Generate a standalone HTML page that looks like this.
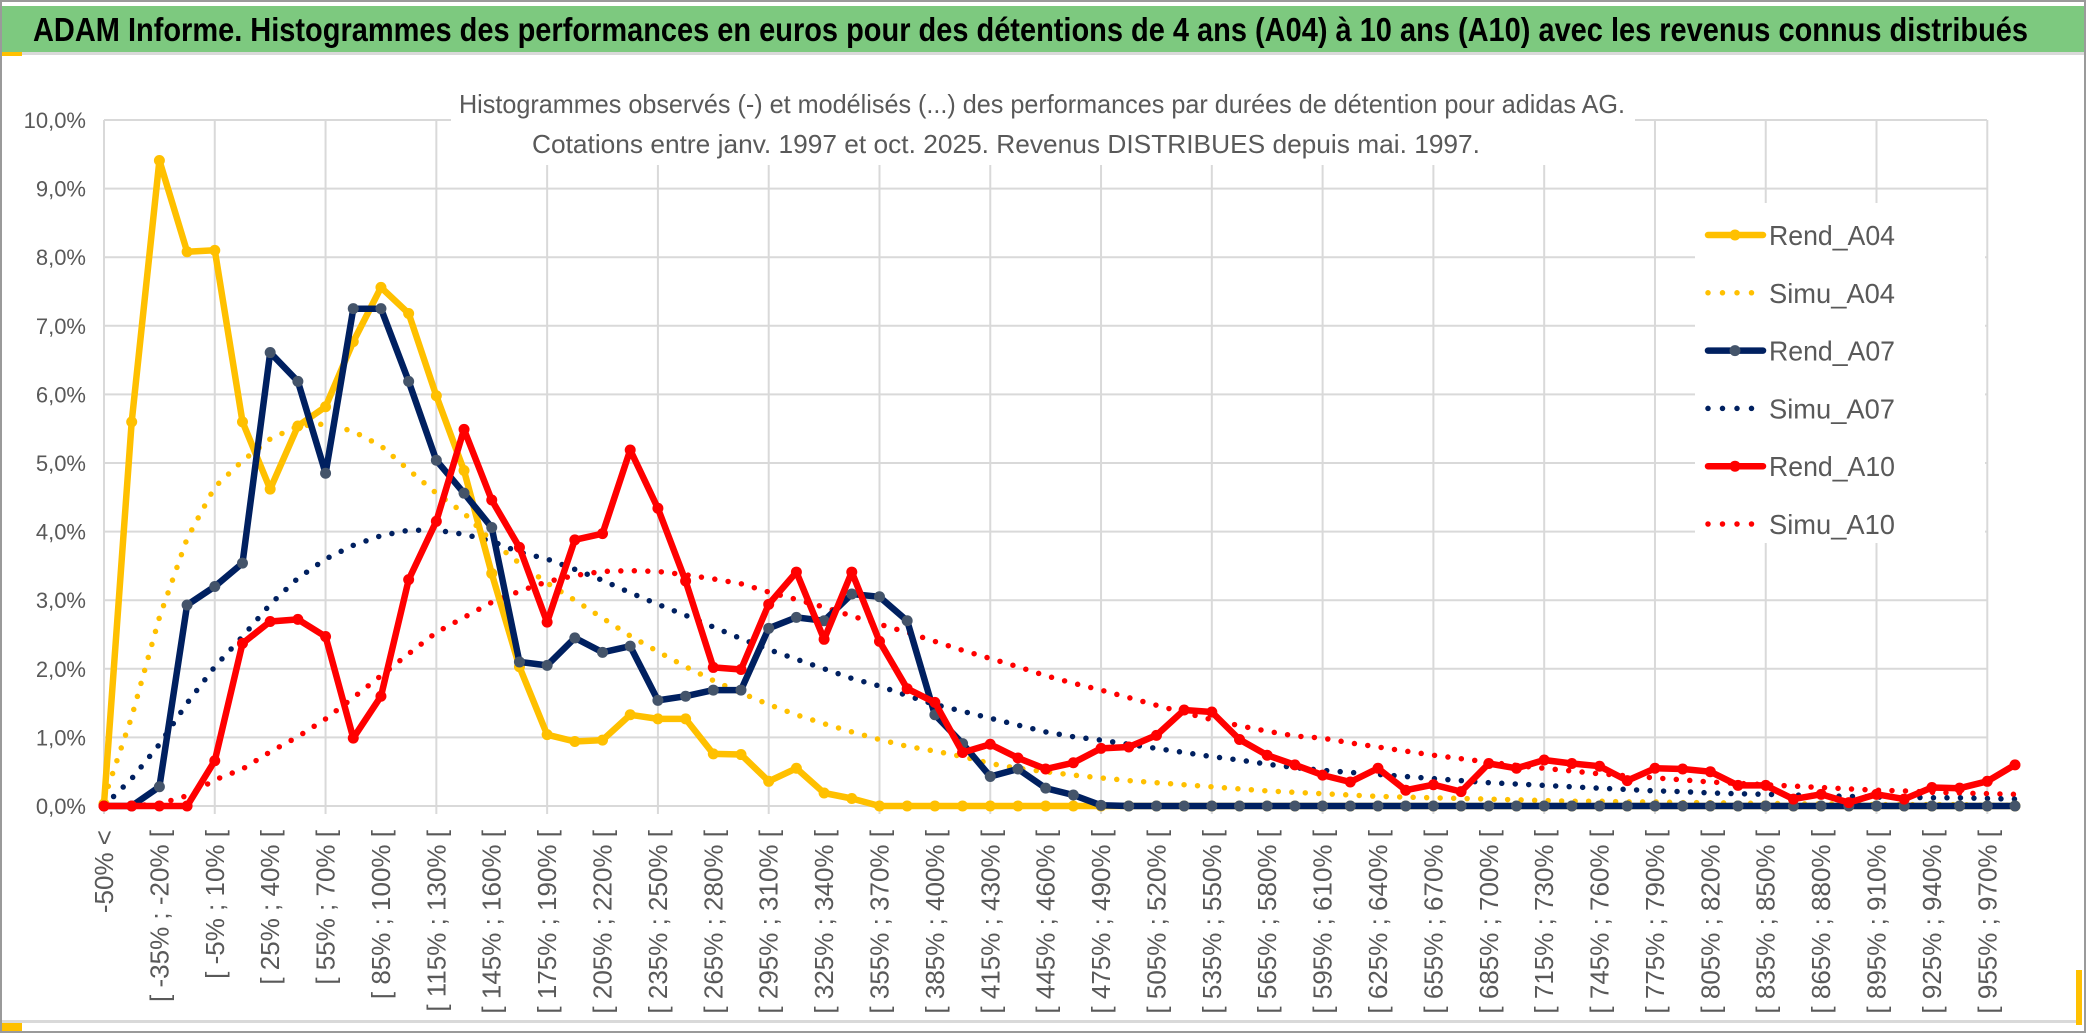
<!DOCTYPE html>
<html><head><meta charset="utf-8"><style>
html,body{margin:0;padding:0;background:#fff;}
svg{display:block;font-family:"Liberation Sans",sans-serif;}
</style></head><body>
<svg id="chart" width="2086" height="1033" viewBox="0 0 2086 1033" xmlns="http://www.w3.org/2000/svg">
<rect x="0" y="0" width="2086" height="1033" fill="#fff"/>
<rect x="1" y="1" width="2084" height="1031" fill="none" stroke="#9a9a9a" stroke-width="2"/>
<rect x="2" y="6" width="2082" height="46" fill="#7dc97f"/>
<rect x="2" y="52" width="2082" height="3" fill="#d9d9d9"/>
<rect x="2" y="52" width="20" height="4" fill="#ffc000"/>
<text x="33" y="41" font-size="33" font-weight="bold" fill="#000" textLength="1995" lengthAdjust="spacingAndGlyphs">ADAM Informe. Histogrammes des performances en euros pour des détentions de 4 ans (A04) à 10 ans (A10) avec les revenus connus distribués</text>
<rect x="2" y="1020" width="2080" height="3" fill="#d9d9d9"/>
<rect x="2" y="1023" width="20" height="8" fill="#ffc000"/>
<rect x="2076" y="970" width="6" height="55" fill="#ffc000"/>
<g id="grid"></g>
<rect x="451" y="60" width="1184" height="105" fill="#fff"/>
<text x="1042" y="113" font-size="26" fill="#595959" text-anchor="middle" textLength="1166" lengthAdjust="spacingAndGlyphs">Histogrammes observés (-) et modélisés (...) des performances par durées de détention pour adidas AG.</text>
<text x="1006" y="153" font-size="26" fill="#595959" text-anchor="middle" textLength="948" lengthAdjust="spacingAndGlyphs">Cotations entre janv. 1997 et oct. 2025. Revenus DISTRIBUES depuis mai. 1997.</text>
<g id="yticks"></g>
<g id="xticks"></g>
<g id="series"></g>
<rect x="1695" y="203" width="290" height="340" fill="#fff"/>
<g id="legend"></g>
</svg>
<script>
const categories = ["-50% <"];
for (let k = 0; k < 68; k++) { const a = -50 + 15 * k; categories.push("[ " + a + "% ; " + (a + 15) + "% ["); }
categories.push("> 970%");
const yTicks = [0,1,2,3,4,5,6,7,8,9,10];
const yTickLabels = ["0,0%","1,0%","2,0%","3,0%","4,0%","5,0%","6,0%","7,0%","8,0%","9,0%","10,0%"];
const rendA04 = [0.03,5.6,9.41,8.08,8.1,5.6,4.62,5.54,5.82,6.77,7.56,7.18,5.98,4.89,3.39,2.03,1.04,0.94,0.96,1.33,1.27,1.27,0.76,0.75,0.36,0.55,0.19,0.11,0,0,0,0,0,0,0,0,0,0,0,0,0,0,0,0,0,0,0,0,0,0,0,0,0,0,0,0,0,0,0,0,0,0,0,0,0,0,0,0,0,0];
const simuA04 = [0.1,1.3,2.75,3.9,4.65,5.03,5.35,5.54,5.57,5.46,5.25,4.9,4.56,4.27,3.86,3.54,3.25,3.0,2.74,2.48,2.25,2.03,1.83,1.65,1.48,1.33,1.2,1.08,0.97,0.87,0.8,0.72,0.62,0.55,0.5,0.45,0.41,0.37,0.34,0.31,0.28,0.25,0.22,0.2,0.18,0.16,0.14,0.13,0.12,0.11,0.1,0.09,0.08,0.07,0.07,0.06,0.06,0.05,0.05,0.04,0.04,0.03,0.03,0.03,0.02,0.02,0.02,0.02,0.01,0.01];
const rendA07 = [0,0,0.28,2.93,3.2,3.54,6.61,6.19,4.85,7.25,7.25,6.19,5.04,4.56,4.06,2.1,2.05,2.45,2.24,2.33,1.54,1.6,1.69,1.69,2.59,2.75,2.7,3.09,3.05,2.7,1.33,0.91,0.43,0.54,0.26,0.16,0.01,0,0,0,0,0,0,0,0,0,0,0,0,0,0,0,0,0,0,0,0,0,0,0,0,0,0,0,0,0,0,0,0,0];
const simuA07 = [0,0.4,0.9,1.5,2.03,2.47,2.94,3.32,3.6,3.8,3.94,4.02,4.02,3.96,3.86,3.7,3.6,3.45,3.29,3.11,2.94,2.78,2.61,2.44,2.28,2.14,2.0,1.86,1.75,1.61,1.48,1.38,1.28,1.18,1.08,1.01,0.96,0.9,0.84,0.78,0.72,0.67,0.61,0.56,0.52,0.49,0.46,0.43,0.4,0.37,0.34,0.32,0.3,0.28,0.26,0.24,0.22,0.21,0.19,0.18,0.17,0.16,0.15,0.14,0.13,0.13,0.12,0.12,0.11,0.1];
const rendA10 = [0,0,0,0,0.66,2.37,2.69,2.72,2.47,0.99,1.6,3.3,4.15,5.49,4.46,3.77,2.68,3.88,3.97,5.19,4.34,3.28,2.02,1.99,2.94,3.41,2.43,3.41,2.4,1.71,1.51,0.78,0.9,0.7,0.54,0.63,0.84,0.86,1.03,1.4,1.37,0.97,0.74,0.6,0.45,0.35,0.55,0.23,0.31,0.21,0.62,0.55,0.67,0.62,0.58,0.37,0.55,0.54,0.5,0.3,0.3,0.1,0.17,0.05,0.17,0.1,0.27,0.26,0.36,0.6];
const simuA10 = [0,0,0.03,0.15,0.38,0.54,0.79,1.01,1.27,1.58,1.9,2.22,2.53,2.75,2.97,3.13,3.27,3.36,3.42,3.43,3.42,3.37,3.31,3.24,3.12,3.01,2.9,2.77,2.65,2.53,2.4,2.27,2.15,2.03,1.9,1.79,1.69,1.58,1.47,1.36,1.26,1.17,1.09,1.02,0.99,0.92,0.86,0.8,0.74,0.69,0.64,0.59,0.55,0.51,0.47,0.44,0.41,0.38,0.35,0.33,0.31,0.29,0.27,0.25,0.23,0.22,0.2,0.19,0.18,0.17];
const seriesNames = ["Rend_A04","Simu_A04","Rend_A07","Simu_A07","Rend_A10","Simu_A10"];

const NS = "http://www.w3.org/2000/svg";
const X0 = 104, X1 = 2015, Y0 = 806, PER = 68.6;
function xScale(i){ return X0 + i * (X1 - X0) / (categories.length - 1); }
function yScale(v){ return Y0 - v * PER; }
function mk(tag, attrs, parent){ const e = document.createElementNS(NS, tag); for (const k in attrs) e.setAttribute(k, attrs[k]); parent.appendChild(e); return e; }

const grid = document.getElementById("grid");
yTicks.forEach(t => {
  const l = mk("line", {x1: X0, x2: 1987, y1: yScale(t), y2: yScale(t), stroke: "#d9d9d9", "stroke-width": 2}, grid);
  
  
});
for (let i = 0; i < categories.length; i += 4) {
  const l = mk("line", {x1: xScale(i), x2: xScale(i), y1: yScale(10), y2: Y0 + 8, stroke: "#d9d9d9", "stroke-width": 2}, grid);
  
  
}
const yt = document.getElementById("yticks");
yTicks.forEach((t, k) => {
  const tx = mk("text", {x: 86, y: yScale(t) + 8, "font-size": 22, fill: "#595959", "text-anchor": "end"}, yt);
  tx.textContent = yTickLabels[k];
  
  
});
const xt = document.getElementById("xticks");
for (let i = 0; i < categories.length - 1; i += 2) {
  const x = xScale(i) + 9, y = 830;
  const tx = mk("text", {x: x, y: y, "font-size": 26, fill: "#595959", "text-anchor": "end", transform: "rotate(-90 " + x + " " + y + ")"}, xt);
  tx.textContent = categories[i];
  
  
}
const sg = document.getElementById("series");
function pts(arr){ return arr.map((v, i) => xScale(i).toFixed(1) + "," + yScale(v).toFixed(1)).join(" "); }
function simu(arr, color, name){
  const p = mk("polyline", {points: pts(arr), fill: "none", stroke: color, "stroke-width": 5.5, "stroke-linecap": "round", "stroke-dasharray": "0 13.5"}, sg);
  
  
}
function rend(arr, color, mcolor, name){
  const g = mk("g", {}, sg);
  
  
  mk("polyline", {points: pts(arr), fill: "none", stroke: color, "stroke-width": 6.5, "stroke-linejoin": "round"}, g);
  arr.forEach((v, i) => {
    const c = mk("circle", {cx: xScale(i), cy: yScale(v), r: 5.5, fill: mcolor}, g);
    
    
  });
}
simu(simuA10, "#ff0000", "simu-a10-line");
simu(simuA07, "#002060", "simu-a07-line");
simu(simuA04, "#ffc000", "simu-a04-line");
rend(rendA04, "#ffc000", "#ffc000", "rend-a04-line");
rend(rendA07, "#002060", "#44546a", "rend-a07-line");
rend(rendA10, "#ff0000", "#ff0000", "rend-a10-line");

const lg = document.getElementById("legend");
const legendStyles = [["#ffc000","#ffc000",false],["#ffc000",null,true],["#002060","#44546a",false],["#002060",null,true],["#ff0000","#ff0000",false],["#ff0000",null,true]];
seriesNames.forEach((n, k) => {
  const y = 235 + k * 57.8;
  const g = mk("g", {}, lg);
  
  
  const s = legendStyles[k];
  if (s[2]) {
    mk("line", {x1: 1708, x2: 1760, y1: y, y2: y, stroke: s[0], "stroke-width": 5.5, "stroke-linecap": "round", "stroke-dasharray": "0 14.5"}, g);
  } else {
    mk("line", {x1: 1708, x2: 1763, y1: y, y2: y, stroke: s[0], "stroke-width": 6.5, "stroke-linecap": "round"}, g);
    mk("circle", {cx: 1735, cy: y, r: 5.5, fill: s[1]}, g);
  }
  const t = mk("text", {x: 1769, y: y + 10, "font-size": 28, fill: "#595959", textLength: 126, lengthAdjust: "spacingAndGlyphs"}, g);
  t.textContent = n;
});
</script>
</body></html>
